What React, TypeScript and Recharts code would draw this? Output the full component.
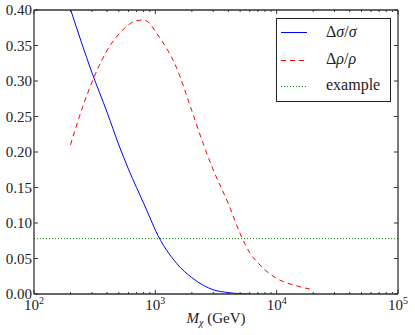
import { LineChart, Line, XAxis, YAxis } from "recharts";

document.body.style.margin = "0";

const FONT = "'Liberation Serif', 'DejaVu Serif', serif";
const FRAME = "#333";

// Δσ/σ against M_χ (GeV)
const sigmaMass = [200, 300, 400, 500, 600, 700, 800, 900, 1000, 1500, 2000, 2500, 3000, 4000, 5000, 6000];
const sigmaValues = [0.401, 0.312, 0.256, 0.21, 0.176, 0.15, 0.128, 0.108, 0.09, 0.043, 0.023, 0.012, 0.006, 0.002, 0.0004, 0];

// Δρ/ρ against M_χ (GeV)
const rhoMass = [200, 250, 300, 400, 500, 600, 700, 800, 900, 1000, 1500, 2000, 2500, 3000, 4000, 5000, 6000, 7000, 8000, 10000, 15000, 20000];
const rhoValues = [0.21, 0.262, 0.298, 0.343, 0.366, 0.379, 0.385, 0.386, 0.381, 0.37, 0.318, 0.258, 0.21, 0.175, 0.127, 0.085, 0.058, 0.044, 0.034, 0.022, 0.011, 0.006];

// "example" level
const exampleMass = [100, 100000];
const exampleValues = [0.078, 0.078];

const majorMassTicks = [100, 1000, 10000, 100000];
const massExponents = ["2", "3", "4", "5"];
const minorMassTicks = [
  200, 300, 400, 500, 600, 700, 800, 900,
  2000, 3000, 4000, 5000, 6000, 7000, 8000, 9000,
  20000, 30000, 40000, 50000, 60000, 70000, 80000, 90000,
];
const yTicks = [0, 0.05, 0.1, 0.15, 0.2, 0.25, 0.3, 0.35, 0.4];
const yTickLabels = ["0.00", "0.05", "0.10", "0.15", "0.20", "0.25", "0.30", "0.35", "0.40"];

const allMassTicks = [...majorMassTicks, ...minorMassTicks].sort((a, b) => a - b);

const toRows = (xs: number[], ys: number[]) => xs.map((m, i) => ({ m, v: ys[i] }));
const sigmaData = toRows(sigmaMass, sigmaValues);
const rhoData = toRows(rhoMass, rhoValues);
const exampleData = toRows(exampleMass, exampleValues);

function BottomTick(props: any) {
  const { x, y, payload } = props;
  const i = majorMassTicks.indexOf(payload.value);
  if (i < 0) return <line x1={x} x2={x} y1={y} y2={y - 2} stroke={FRAME} />;
  return (
    <g>
      <line x1={x} x2={x} y1={y} y2={y - 4} stroke={FRAME} />
      <text x={x} y={y + 16} textAnchor="middle" fontSize={15} fontFamily={FONT} fill="#222">
        10<tspan dy={-6} fontSize={10}>{massExponents[i]}</tspan>
      </text>
    </g>
  );
}

function TopTick(props: any) {
  const { x, y, payload } = props;
  const len = majorMassTicks.includes(payload.value) ? 4 : 2;
  return <line x1={x} x2={x} y1={y} y2={y + len} stroke={FRAME} />;
}

function LeftTick(props: any) {
  const { x, y, index } = props;
  return (
    <g>
      <line x1={x} x2={x + 4} y1={y} y2={y} stroke={FRAME} />
      <text x={x - 2} y={y + 5} textAnchor="end" fontSize={15} fontFamily={FONT} fill="#222">
        {yTickLabels[index]}
      </text>
    </g>
  );
}

function RightTick(props: any) {
  const { x, y } = props;
  return <line x1={x} x2={x - 4} y1={y} y2={y} stroke={FRAME} />;
}

export default function App() {
  const axisLine = { stroke: FRAME, strokeWidth: 1.3 };
  return (
    <div style={{ position: "relative", width: 415, height: 335, background: "#fff" }}>
      <LineChart width={415} height={335} margin={{ top: 9, right: 16, bottom: 40, left: 33 }}>
        <XAxis
          dataKey="m"
          type="number"
          scale="log"
          domain={[100, 100000]}
          allowDataOverflow
          ticks={allMassTicks}
          interval={0}
          height={1}
          tickSize={0}
          tickMargin={0}
          tickLine={false}
          axisLine={axisLine}
          tick={BottomTick}
        />
        <XAxis
          xAxisId="top"
          orientation="top"
          dataKey="m"
          type="number"
          scale="log"
          domain={[100, 100000]}
          allowDataOverflow
          ticks={allMassTicks}
          interval={0}
          height={1}
          tickSize={0}
          tickMargin={0}
          tickLine={false}
          axisLine={axisLine}
          tick={TopTick}
        />
        <YAxis
          type="number"
          domain={[0, 0.4]}
          allowDataOverflow
          ticks={yTicks}
          interval={0}
          width={1}
          tickSize={0}
          tickMargin={0}
          tickLine={false}
          axisLine={axisLine}
          tick={LeftTick}
        />
        <YAxis
          yAxisId="r"
          orientation="right"
          type="number"
          domain={[0, 0.4]}
          allowDataOverflow
          ticks={yTicks}
          interval={0}
          width={1}
          tickSize={0}
          tickMargin={0}
          tickLine={false}
          axisLine={axisLine}
          tick={RightTick}
        />
        <Line
          data={exampleData}
          xAxisId="top"
          yAxisId="r"
          dataKey="v"
          stroke="#008000"
          strokeWidth={1}
          strokeDasharray="1 2"
          dot={false}
          isAnimationActive={false}
        />
        <Line
          data={rhoData}
          dataKey="v"
          type="monotone"
          stroke="#ff0000"
          strokeWidth={1}
          strokeDasharray="5 4"
          dot={false}
          isAnimationActive={false}
        />
        <Line
          data={sigmaData}
          dataKey="v"
          type="monotone"
          stroke="#0000ff"
          strokeWidth={1}
          dot={false}
          isAnimationActive={false}
        />
      </LineChart>
      <svg
        width={415}
        height={335}
        style={{ position: "absolute", left: 0, top: 0, pointerEvents: "none" }}
        fontFamily={FONT}
      >
        <rect x={276.5} y={18.5} width={114} height={83} fill="#fff" stroke="#222" strokeWidth={1} />
        <line x1={281} x2={307} y1={32.5} y2={32.5} stroke="#0000ff" />
        <line x1={281} x2={307} y1={60.5} y2={60.5} stroke="#ff0000" strokeDasharray="5 4" />
        <line x1={281} x2={307} y1={86.5} y2={86.5} stroke="#008000" strokeDasharray="1 2" />
        <text x={326} y={37} fontSize={16} fill="#222">
          Δ<tspan fontStyle="italic">σ</tspan>/<tspan fontStyle="italic">σ</tspan>
        </text>
        <text x={326} y={64} fontSize={16} fill="#222">
          Δ<tspan fontStyle="italic">ρ</tspan>/<tspan fontStyle="italic">ρ</tspan>
        </text>
        <text x={326} y={90} fontSize={16} fill="#222">
          example
        </text>
        <text x={216} y={323} textAnchor="middle" fontSize={15} fill="#222">
          <tspan fontStyle="italic">M</tspan>
          <tspan fontStyle="italic" fontSize={10} dy={3}>χ</tspan>
          <tspan dy={-3}> (GeV)</tspan>
        </text>
      </svg>
    </div>
  );
}
